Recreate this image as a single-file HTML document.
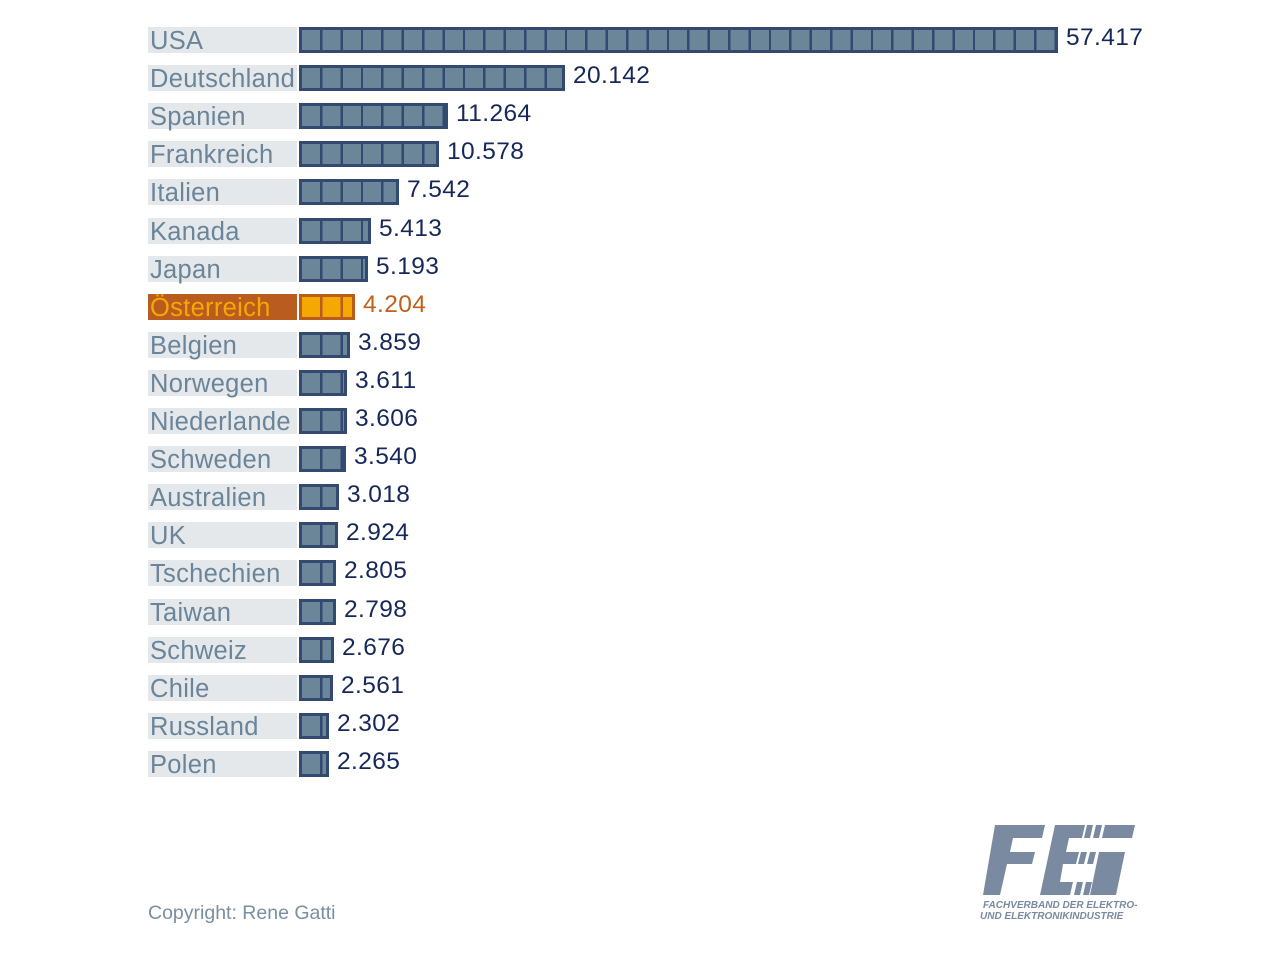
<!DOCTYPE html>
<html><head><meta charset="utf-8"><style>
body{margin:0;width:1272px;height:980px;background:#fff;position:relative;font-family:"Liberation Sans",sans-serif;overflow:hidden}
.lab{position:absolute;left:148px;width:149px;height:26px;background:#e5e8eb;color:#6a8499;font-size:25.5px;line-height:28px;padding-left:2px;box-sizing:border-box;white-space:nowrap;letter-spacing:0.3px}
.bar{position:absolute;left:299px;height:26px;box-sizing:border-box;border:3px solid #33496f;background:repeating-linear-gradient(90deg,#6b8599 0 18px,#33496f 18px 20.4px);background-clip:padding-box;}
.val{position:absolute;font-size:24.5px;color:#16275a;line-height:26px;letter-spacing:0.4px}
.at .lab{background:#b85c1f;color:#f5a800}
.at .bar{border-color:#b85c1f;background:repeating-linear-gradient(90deg,#f5a800 0 18px,#b85c1f 18px 20.4px)}
.at .val{color:#c0601a}
</style></head><body>
<div id="c"></div>
<div style="position:absolute;left:148px;top:902px;font-size:19.5px;color:#7a8fa3">Copyright: Rene Gatti</div>
<svg style="position:absolute;left:975px;top:820px" width="170" height="105">
<g fill="#7a8aa0">
<polygon points="20,5 70,5 67,18 38,18 35,32 60,32 57,44 32,44 25,75 8,75"/>
<polygon points="80,5 110,5 107,18 94,18 91,32 104,32 101,44 88,44 85,62 98,62 95,75 65,75"/>
<polygon points="112,5 118,5 115,18 109,18"/><polygon points="121,5 127,5 124,18 118,18"/>
<polygon points="130,5 160,5 157,18 127,18"/>
<polygon points="106,32 112,32 109,44 103,44"/><polygon points="115,32 121,32 118,44 112,44"/>
<polygon points="124,32 150,32 141,75 115,75"/>
<polygon points="102,62 108,62 105,75 99,75"/><polygon points="111,62 117,62 114,75 108,75"/>
</g>
<text x="8" y="88" font-family="Liberation Sans" font-weight="bold" font-style="italic" font-size="10" fill="#7a8aa0">FACHVERBAND DER ELEKTRO-</text>
<text x="5" y="99" font-family="Liberation Sans" font-weight="bold" font-style="italic" font-size="10" fill="#7a8aa0">UND ELEKTRONIKINDUSTRIE</text>
</svg>
<script>
var d=[["USA",57.417],["Deutschland",20.142],["Spanien",11.264],["Frankreich",10.578],["Italien",7.542],["Kanada",5.413],["Japan",5.193],["Österreich",4.204],["Belgien",3.859],["Norwegen",3.611],["Niederlande",3.606],["Schweden",3.540],["Australien",3.018],["UK",2.924],["Tschechien",2.805],["Taiwan",2.798],["Schweiz",2.676],["Chile",2.561],["Russland",2.302],["Polen",2.265]];
var h="";
d.forEach(function(r,i){var t=27+i*38.1;var w=Math.round(r[1]*13.22);
h+='<div class="'+(r[0]=="Österreich"?"at":"")+'"><div class="lab" style="top:'+t+'px">'+r[0]+'</div><div class="bar" style="top:'+t+'px;width:'+w+'px"></div><div class="val" style="top:'+(t-2)+'px;left:'+(299+w+8)+'px">'+r[1].toFixed(3)+'</div></div>';});
document.getElementById("c").innerHTML=h;
</script>
</body></html>
